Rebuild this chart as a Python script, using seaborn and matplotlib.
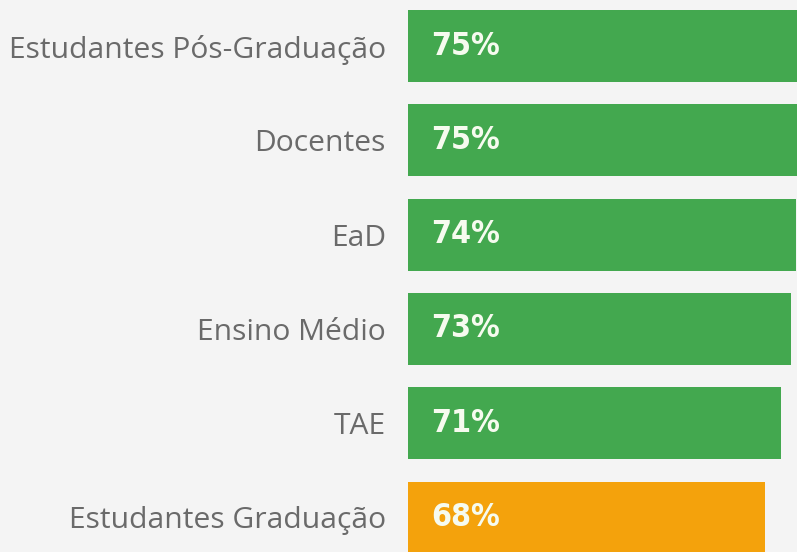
import matplotlib
matplotlib.use("Agg")
import matplotlib.pyplot as plt
import seaborn as sns
import pandas as pd

# values
categories = ["Estudantes Pós-Graduação", "Docentes", "EaD", "Ensino Médio", "TAE", "Estudantes Graduação"]
values = [75, 75, 74, 73, 71, 68]
highlight = ["normal", "normal", "normal", "normal", "normal", "low"]

bg = "#f4f4f4"
palette = {"normal": "#43a84f", "low": "#f4a20c"}

df = pd.DataFrame({"grupo": categories, "valor": values, "tipo": highlight})

sns.set_theme(style="white")
plt.rcParams["font.family"] = ["Open Sans", "DejaVu Sans"]

fig = plt.figure(figsize=(7.97, 5.52), dpi=100, facecolor=bg)
ax = fig.add_axes([408 / 797, 0, 1 - 408 / 797, 1])
ax.set_facecolor(bg)

sns.barplot(data=df, x="valor", y="grupo", hue="tipo", palette=palette,
            dodge=False, width=0.763, legend=False, ax=ax, saturation=1,
            linewidth=0)

# axis starts at 0, right edge of figure cuts the longest bars
ax.set_xlim(0, 74.1)
ax.set_ylim(5.366, -0.488)

for i, v in enumerate(values):
    ax.text(4.5, i, f"{v}%", va="center", ha="left", color="#f6fbef",
            fontsize=23, fontweight="bold", fontstretch="condensed",
            family="DejaVu Sans")

ax.set_xlabel("")
ax.set_ylabel("")
ax.set_xticks([])
ax.tick_params(axis="y", length=0, pad=16, labelsize=21.6, labelcolor="#6a6a6a")
sns.despine(ax=ax, left=True, bottom=True, top=True, right=True)

fig.savefig("out.png", dpi=100, facecolor=bg)
